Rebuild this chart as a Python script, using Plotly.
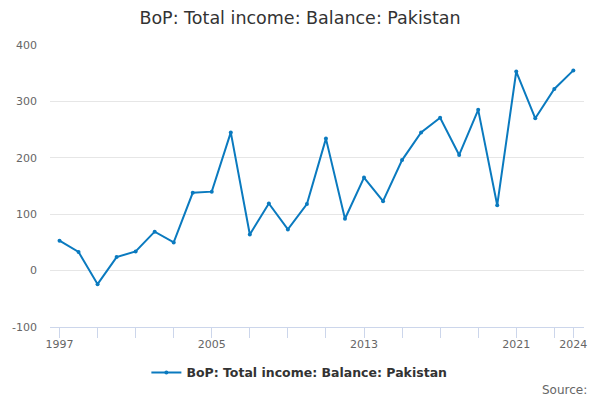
import plotly.graph_objects as go

years = list(range(1997, 2025))
values = [53, 33, -24, 24, 34, 69, 50, 138, 140, 245, 64, 119, 73, 118,
          234, 92, 165, 123, 196, 245, 271, 205, 285, 116, 353, 270, 322, 355]

tick_years = list(range(1997, 2024, 2)) + [2024]
labelled = {1997, 2005, 2013, 2021, 2024}
tick_text = [str(y) if y in labelled else "" for y in tick_years]

y_ticks = [-100, 0, 100, 200, 300, 400]
y_text = ["-100", "0", "100", "200", "300", "400"]

series_name = "BoP: Total income: Balance: Pakistan"

fig = go.Figure()
fig.add_trace(go.Scatter(
    x=years, y=values, mode="lines+markers", name=series_name,
    line=dict(color="#0a7abf", width=2),
    marker=dict(color="#0a7abf", size=4),
))

fig.update_layout(
    width=600, height=400,
    margin=dict(l=50, r=16, t=45, b=73, autoexpand=False),
    paper_bgcolor="white", plot_bgcolor="white",
    font=dict(family="DejaVu Sans", color="#666666", size=11),
    title=dict(text=series_name, x=0.5, xanchor="center", y=0.955, yanchor="middle",
               font=dict(size=17.5, color="#333333")),
    showlegend=True,
    legend=dict(orientation="h", x=0.467, xanchor="center", y=-0.163, yanchor="middle",
                font=dict(size=12.5, color="#333333", weight="bold")),
    xaxis=dict(range=[1996.5, 2024.56], tickvals=tick_years, ticktext=tick_text,
               showgrid=False, zeroline=False, showline=True, linecolor="#ccd6eb",
               ticks="outside", ticklen=10, tickcolor="#ccd6eb", automargin=False,
               ticklabelstandoff=-3),
    yaxis=dict(range=[-100, 400], tickvals=y_ticks, ticktext=y_text, showgrid=True,
               gridcolor="#e6e6e6", zeroline=False, showline=False, automargin=False,
               ticklabelstandoff=12),
)

fig.add_annotation(text="Source:", xref="paper", yref="paper", x=1.009, y=-0.223,
                   xanchor="right", yanchor="middle", showarrow=False,
                   font=dict(size=12, color="#666666"))

# drop the default page margin so the chart sits at the window's corner
fig.write_html("out.html", config={"displayModeBar": False},
               post_script="document.body.style.margin='0';")
